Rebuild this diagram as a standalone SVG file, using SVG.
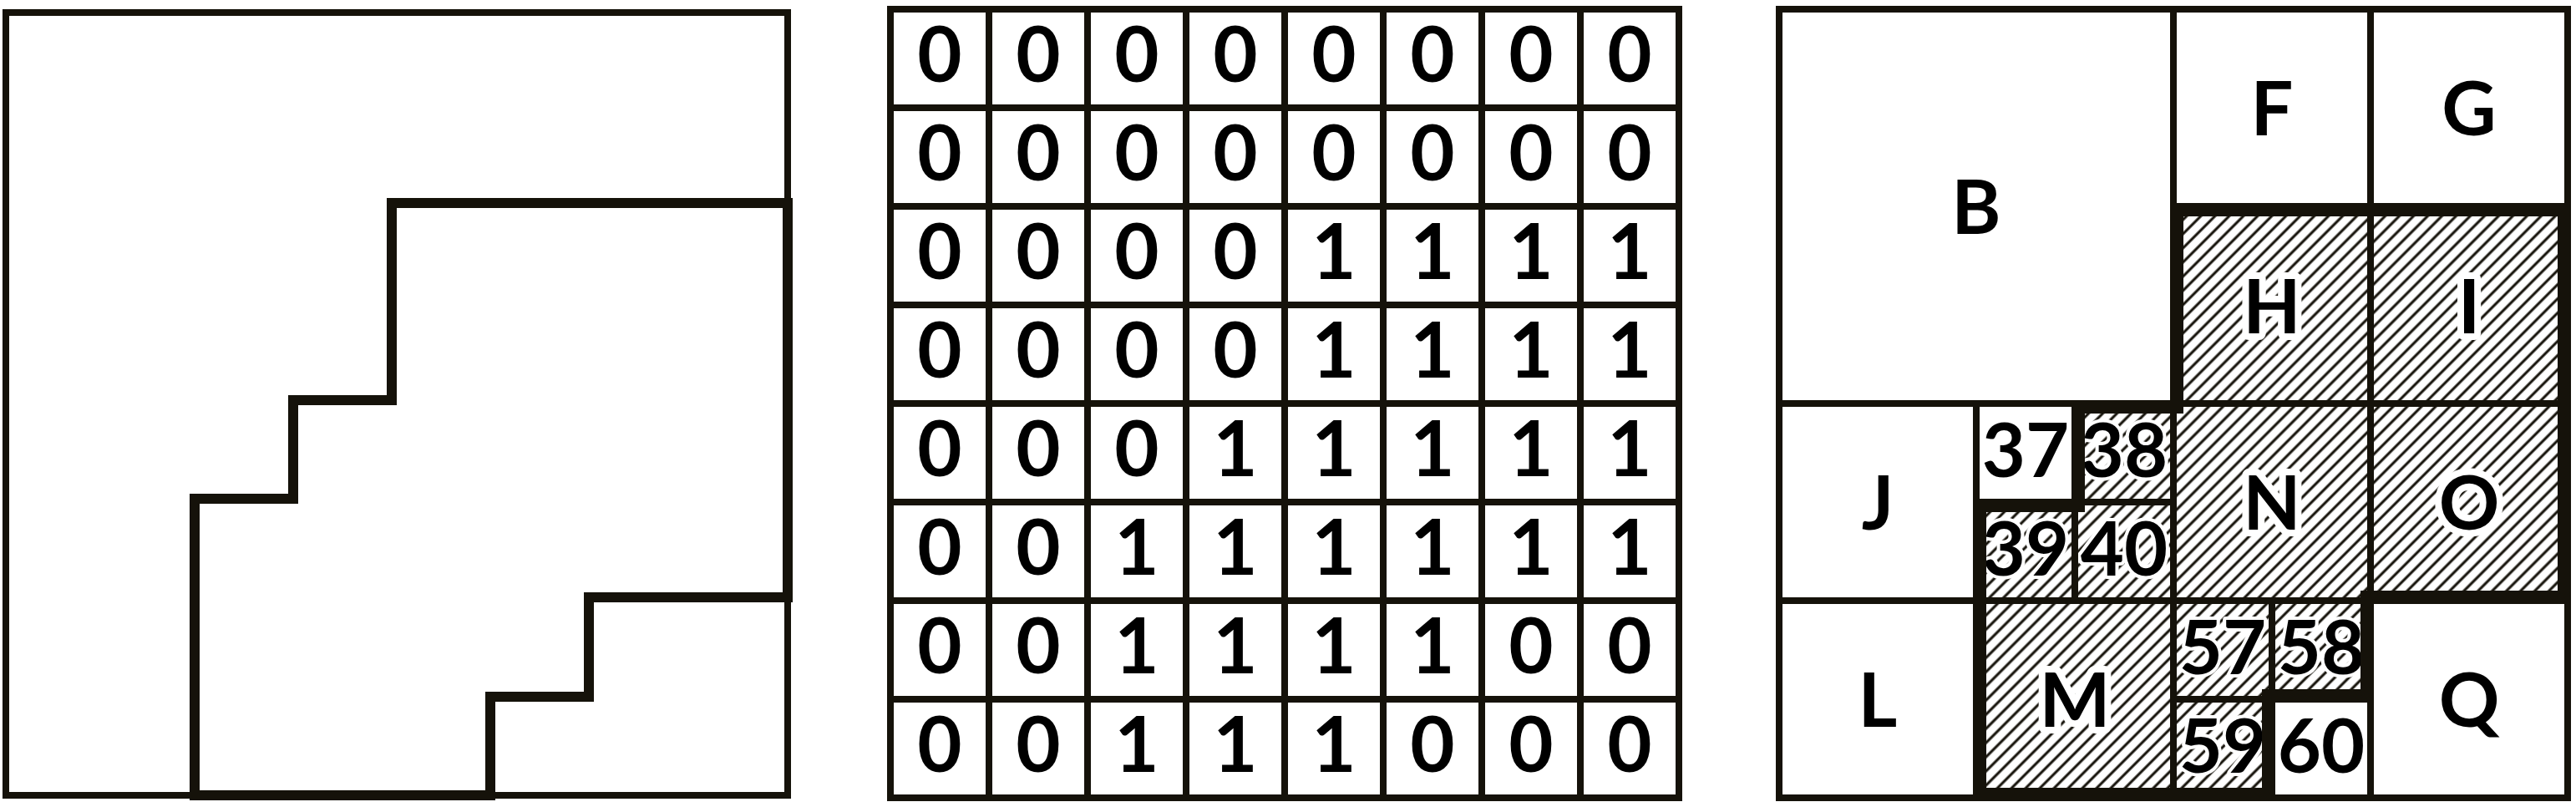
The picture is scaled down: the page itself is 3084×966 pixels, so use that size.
<svg xmlns="http://www.w3.org/2000/svg" width="3084" height="966" viewBox="0 0 3084 966">
<style>
.thin{fill:none;stroke:#15120a;stroke-width:8;stroke-linecap:square}
.thick{fill:none;stroke:#15120a;stroke-width:12;stroke-linejoin:miter}
.dg{font-family:Lato,"Liberation Sans",sans-serif;font-weight:bold;font-size:92px;text-anchor:middle;fill:#000}
.lb{font-family:Lato,"Liberation Sans",sans-serif;font-weight:bold;font-size:90px;text-anchor:middle;fill:#000}
.halo{paint-order:stroke;stroke:#fff;stroke-width:16;stroke-linejoin:round}
.halo2{paint-order:stroke;stroke:#fff;stroke-width:8;stroke-linejoin:round}
.w{fill:#fff}
.h{fill:url(#hatch)}
</style>
<defs>
<pattern id="hatch" patternUnits="userSpaceOnUse" width="12" height="12" patternTransform="rotate(45)">
<rect width="12" height="12" fill="#fff"/>
<line x1="6" y1="-1" x2="6" y2="13" stroke="#15120a" stroke-width="3.1"/>
</pattern>
<clipPath id="regionClip"><path id="regionPath" d="M2602,247 H3074 V719 H2838 V837 H2720 V955 H2366 V601 H2484 V483 H2602 Z"/></clipPath>
</defs>
<rect width="3084" height="966" fill="#fff"/>

<g id="left-panel">
<rect class="thin" x="7" y="15" width="936" height="937"/>
<path id="left-region" class="thick" d="M469,243 H943 V715 H705 V834 H587 V952 H233 V597 H351 V479 H469 Z"/>
</g>

<g id="middle-grid">
<path class="thin" d="M1066,11 H2010 V955 H1066 Z M1184,11 V955 M1302,11 V955 M1420,11 V955 M1538,11 V955 M1656,11 V955 M1774,11 V955 M1892,11 V955 M1066,129 H2010 M1066,247 H2010 M1066,365 H2010 M1066,483 H2010 M1066,601 H2010 M1066,719 H2010 M1066,837 H2010"/>
<g id="row0"><text class="dg" x="1125" y="98">0</text><text class="dg" x="1243" y="98">0</text><text class="dg" x="1361" y="98">0</text><text class="dg" x="1479" y="98">0</text><text class="dg" x="1597" y="98">0</text><text class="dg" x="1715" y="98">0</text><text class="dg" x="1833" y="98">0</text><text class="dg" x="1951" y="98">0</text></g>
<g id="row1"><text class="dg" x="1125" y="216">0</text><text class="dg" x="1243" y="216">0</text><text class="dg" x="1361" y="216">0</text><text class="dg" x="1479" y="216">0</text><text class="dg" x="1597" y="216">0</text><text class="dg" x="1715" y="216">0</text><text class="dg" x="1833" y="216">0</text><text class="dg" x="1951" y="216">0</text></g>
<g id="row2"><text class="dg" x="1125" y="334">0</text><text class="dg" x="1243" y="334">0</text><text class="dg" x="1361" y="334">0</text><text class="dg" x="1479" y="334">0</text><text class="dg" x="1597" y="334">1</text><text class="dg" x="1715" y="334">1</text><text class="dg" x="1833" y="334">1</text><text class="dg" x="1951" y="334">1</text></g>
<g id="row3"><text class="dg" x="1125" y="452">0</text><text class="dg" x="1243" y="452">0</text><text class="dg" x="1361" y="452">0</text><text class="dg" x="1479" y="452">0</text><text class="dg" x="1597" y="452">1</text><text class="dg" x="1715" y="452">1</text><text class="dg" x="1833" y="452">1</text><text class="dg" x="1951" y="452">1</text></g>
<g id="row4"><text class="dg" x="1125" y="570">0</text><text class="dg" x="1243" y="570">0</text><text class="dg" x="1361" y="570">0</text><text class="dg" x="1479" y="570">1</text><text class="dg" x="1597" y="570">1</text><text class="dg" x="1715" y="570">1</text><text class="dg" x="1833" y="570">1</text><text class="dg" x="1951" y="570">1</text></g>
<g id="row5"><text class="dg" x="1125" y="688">0</text><text class="dg" x="1243" y="688">0</text><text class="dg" x="1361" y="688">1</text><text class="dg" x="1479" y="688">1</text><text class="dg" x="1597" y="688">1</text><text class="dg" x="1715" y="688">1</text><text class="dg" x="1833" y="688">1</text><text class="dg" x="1951" y="688">1</text></g>
<g id="row6"><text class="dg" x="1125" y="806">0</text><text class="dg" x="1243" y="806">0</text><text class="dg" x="1361" y="806">1</text><text class="dg" x="1479" y="806">1</text><text class="dg" x="1597" y="806">1</text><text class="dg" x="1715" y="806">1</text><text class="dg" x="1833" y="806">0</text><text class="dg" x="1951" y="806">0</text></g>
<g id="row7"><text class="dg" x="1125" y="924">0</text><text class="dg" x="1243" y="924">0</text><text class="dg" x="1361" y="924">1</text><text class="dg" x="1479" y="924">1</text><text class="dg" x="1597" y="924">1</text><text class="dg" x="1715" y="924">0</text><text class="dg" x="1833" y="924">0</text><text class="dg" x="1951" y="924">0</text></g>
</g>

<g id="quadtree">
<g id="cell-B"><rect class="w" x="2130" y="11" width="472" height="472"/><text class="lb" x="2366" y="280">B</text></g>
<g id="cell-F"><rect class="w" x="2602" y="11" width="236" height="236"/><text class="lb" x="2720" y="162">F</text></g>
<g id="cell-G"><rect class="w" x="2838" y="11" width="236" height="236"/><text class="lb" x="2956" y="162">G</text></g>
<g id="cell-H"><rect class="h" x="2602" y="247" width="236" height="236"/><text class="lb halo" x="2720" y="399">H</text></g>
<g id="cell-I"><rect class="h" x="2838" y="247" width="236" height="236"/><text class="lb halo" x="2956" y="399">I</text></g>
<g id="cell-J"><rect class="w" x="2130" y="483" width="236" height="236"/><text class="lb" x="2248" y="634">J</text></g>
<g id="cell-37"><rect class="w" x="2366" y="483" width="118" height="118"/><text class="lb" x="2425" y="571">37</text></g>
<g id="cell-38"><rect class="h" x="2484" y="483" width="118" height="118"/><text class="lb halo2" x="2543" y="571">38</text></g>
<g id="cell-39"><rect class="h" x="2366" y="601" width="118" height="118"/><text class="lb halo2" x="2425" y="689">39</text></g>
<g id="cell-40"><rect class="h" x="2484" y="601" width="118" height="118"/><text class="lb halo2" x="2543" y="689">40</text></g>
<g id="cell-N"><rect class="h" x="2602" y="483" width="236" height="236"/><text class="lb halo" x="2720" y="634">N</text></g>
<g id="cell-O"><rect class="h" x="2838" y="483" width="236" height="236"/><text class="lb halo" x="2956" y="634">O</text></g>
<g id="cell-L"><rect class="w" x="2130" y="719" width="236" height="236"/><text class="lb" x="2248" y="870">L</text></g>
<g id="cell-M"><rect class="h" x="2366" y="719" width="236" height="236"/><text class="lb halo" x="2484" y="870">M</text></g>
<g id="cell-57"><rect class="h" x="2602" y="719" width="118" height="118"/><text class="lb halo2" x="2661" y="807">57</text></g>
<g id="cell-58"><rect class="h" x="2720" y="719" width="118" height="118"/><text class="lb halo2" x="2779" y="807">58</text></g>
<g id="cell-59"><rect class="h" x="2602" y="837" width="118" height="118"/><text class="lb halo2" x="2661" y="925">59</text></g>
<g id="cell-60"><rect class="w" x="2720" y="837" width="118" height="118"/><text class="lb" x="2779" y="925">60</text></g>
<g id="cell-Q"><rect class="w" x="2838" y="719" width="236" height="236"/><text class="lb" x="2956" y="870">Q</text></g>
<g id="quadtree-lines">
<path class="thin" d="M2130,11 H3074 V955 H2130 Z M2602,11 V955 M2130,483 H3074 M2838,11 V483 M2602,247 H3074 M2366,483 V955 M2130,719 H2602 M2484,483 V719 M2366,601 H2602 M2838,483 V955 M2602,719 H3074 M2720,719 V955 M2602,837 H2838"/>
<path d="M2602,247 H3074 V719 H2838 V837 H2720 V955 H2366 V601 H2484 V483 H2602 Z" fill="none" stroke="#15120a" stroke-width="24" clip-path="url(#regionClip)"/>
</g>
</g>
</svg>
